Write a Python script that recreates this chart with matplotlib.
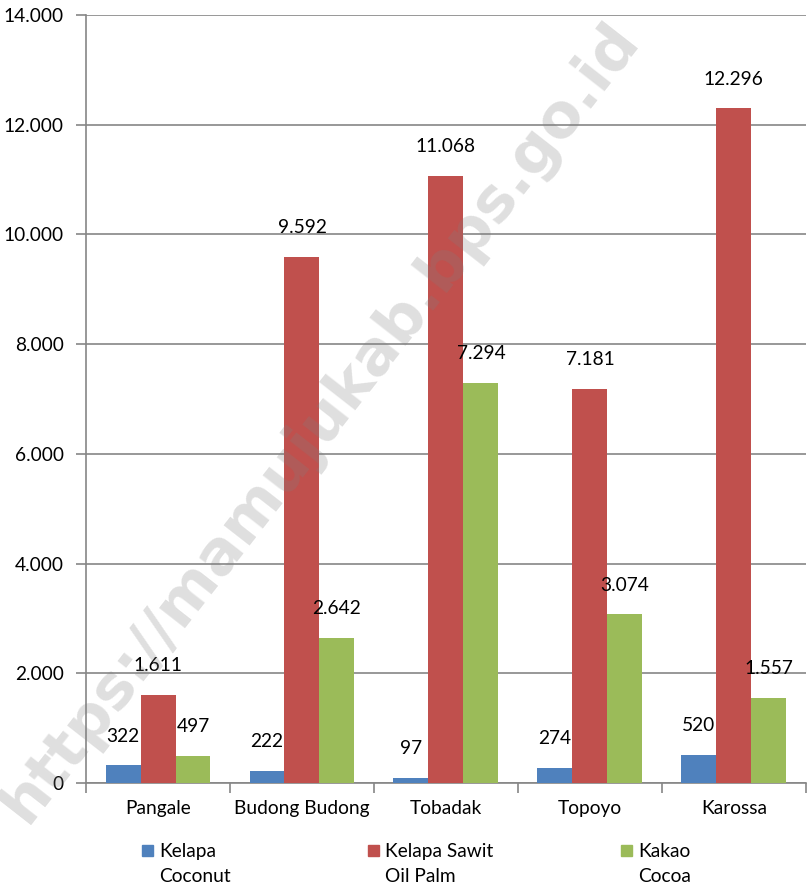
import numpy as np
import matplotlib.pyplot as plt

categories = ['Pangale', 'Budong Budong', 'Tobadak', 'Topoyo', 'Karossa']
kelapa = [322, 222, 97, 274, 520]
sawit = [1611, 9592, 11068, 7181, 12296]
kakao = [497, 2642, 7294, 3074, 1557]
series_labels = ['Kelapa\nCoconut', 'Kelapa Sawit\nOil Palm', 'Kakao\nCocoa']
colors = ['#4F81BD', '#C0504D', '#9BBB59']

plt.rcParams['font.family'] = ['Lato', 'DejaVu Sans']
fs = 13.8

fig = plt.figure(figsize=(8.07, 8.88), dpi=100)
ax = fig.add_axes([0.1066, 0.1182, 0.892, 0.8649])

x = np.arange(len(categories))
w = 0.243
fmt = lambda v: f'{v:,}'.replace(',', '.')

for i, (vals, c) in enumerate(zip([kelapa, sawit, kakao], colors)):
    pos = x + (i - 1) * w
    ax.bar(pos, vals, width=w, color=c, zorder=3)
    for p, v in zip(pos, vals):
        ax.annotate(fmt(v), (p, v), xytext=(0, 15), textcoords='offset points',
                    ha='center', va='bottom', fontsize=fs, zorder=4)

ax.set_xlim(-0.5, len(categories) - 0.5)
ax.set_ylim(0, 14000)
ax.set_yticks(range(0, 14001, 2000))
ax.set_yticklabels([fmt(v) for v in range(0, 14001, 2000)], fontsize=fs)
ax.yaxis.grid(True, color='#868686', linewidth=1.2, zorder=0)

ax.set_xticks(x)
ax.set_xticklabels(categories, fontsize=fs)
ax.tick_params(axis='x', length=0, pad=12)
ax.set_xticks(np.arange(-0.5, len(categories)), minor=True)
ax.tick_params(axis='x', which='minor', length=7, color='#868686', width=1.2)
ax.tick_params(axis='y', length=7, color='#868686', width=1.2, pad=9)

for s in ['top', 'right']:
    ax.spines[s].set_visible(False)
for s in ['left', 'bottom']:
    ax.spines[s].set_color('#868686')
    ax.spines[s].set_linewidth(1.2)

# legend at bottom
leg_x = [0.176, 0.456, 0.770]
for lx, lab, c in zip(leg_x, series_labels, colors):
    fig.patches.append(plt.Rectangle((lx, 0.0355), 0.0136, 0.0124, color=c,
                                     transform=fig.transFigure, figure=fig))
    top, bottom = lab.split('\n')
    fig.text(lx + 0.021, 0.0415, top, fontsize=fs, va='center')
    fig.text(lx + 0.021, 0.0125, bottom, fontsize=fs, va='center')

# watermark
fig.text(0.397, 0.525, 'https://mamujukab.bps.go.id', fontsize=44, fontweight='bold',
         color='#808080', alpha=0.25, rotation=52, ha='center', va='center',
         family='DejaVu Sans', zorder=10)

fig.savefig('out.png', dpi=100)
